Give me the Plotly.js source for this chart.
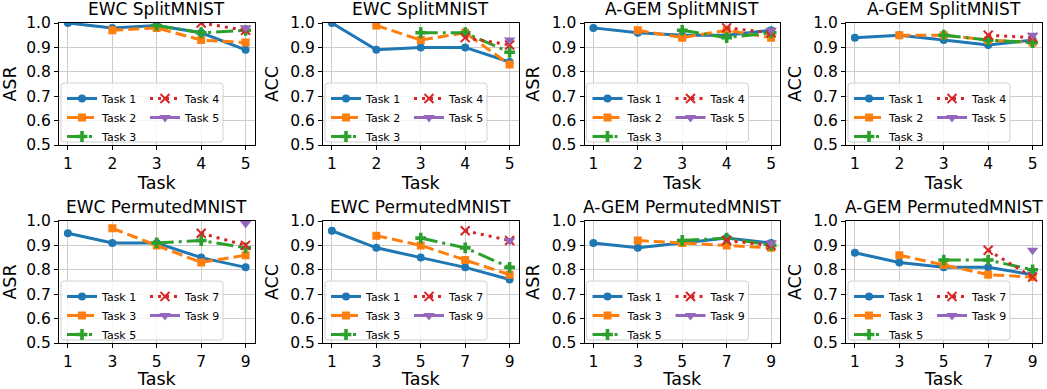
<!DOCTYPE html>
<html><head><meta charset="utf-8">
<script src="https://cdn.plot.ly/plotly-3.0.1.min.js"></script>
<style>html,body{margin:0;padding:0;background:#fff;}#chart{width:1047px;height:389px;}</style>
</head><body><div id="chart"></div>
<script>
// ---------------- data ----------------
const splitTasks = [1, 2, 3, 4, 5];
const permTasks = [1, 3, 5, 7, 9];
const splitNames = ['Task 1', 'Task 2', 'Task 3', 'Task 4', 'Task 5'];
const permNames = ['Task 1', 'Task 3', 'Task 5', 'Task 7', 'Task 9'];
const panelTitles = ['EWC SplitMNIST', 'EWC SplitMNIST', 'A-GEM SplitMNIST', 'A-GEM SplitMNIST',
  'EWC PermutedMNIST', 'EWC PermutedMNIST', 'A-GEM PermutedMNIST', 'A-GEM PermutedMNIST'];
const panelMetrics = ['ASR', 'ACC', 'ASR', 'ACC', 'ASR', 'ACC', 'ASR', 'ACC'];
const yTicks = [0.5, 0.6, 0.7, 0.8, 0.9, 1.0];
const xTitle = 'Task';

// each series starts at the task it was learned on
const ewcSplitASR_t1 = [1.00, 0.98, 0.99, 0.96, 0.89];
const ewcSplitASR_t2 = [0.97, 0.98, 0.93, 0.92];
const ewcSplitASR_t3 = [0.99, 0.96, 0.97];
const ewcSplitASR_t4 = [1.00, 0.97];
const ewcSplitASR_t5 = [0.98];

const ewcSplitACC_t1 = [1.00, 0.89, 0.90, 0.90, 0.84];
const ewcSplitACC_t2 = [0.99, 0.93, 0.96, 0.83];
const ewcSplitACC_t3 = [0.96, 0.96, 0.88];
const ewcSplitACC_t4 = [0.94, 0.91];
const ewcSplitACC_t5 = [0.93];

const agemSplitASR_t1 = [0.98, 0.96, 0.95, 0.95, 0.97];
const agemSplitASR_t2 = [0.97, 0.94, 0.97, 0.94];
const agemSplitASR_t3 = [0.97, 0.94, 0.96];
const agemSplitASR_t4 = [0.98, 0.96];
const agemSplitASR_t5 = [0.97];

const agemSplitACC_t1 = [0.94, 0.95, 0.93, 0.91, 0.93];
const agemSplitACC_t2 = [0.95, 0.95, 0.93, 0.92];
const agemSplitACC_t3 = [0.95, 0.93, 0.92];
const agemSplitACC_t4 = [0.95, 0.94];
const agemSplitACC_t5 = [0.95];

const ewcPermASR_t1 = [0.95, 0.91, 0.91, 0.85, 0.81];
const ewcPermASR_t3 = [0.97, 0.90, 0.83, 0.86];
const ewcPermASR_t5 = [0.91, 0.92, 0.89];
const ewcPermASR_t7 = [0.95, 0.90];
const ewcPermASR_t9 = [0.99];

const ewcPermACC_t1 = [0.96, 0.89, 0.85, 0.81, 0.76];
const ewcPermACC_t3 = [0.94, 0.90, 0.84, 0.78];
const ewcPermACC_t5 = [0.93, 0.89, 0.81];
const ewcPermACC_t7 = [0.96, 0.92];
const ewcPermACC_t9 = [0.92];

const agemPermASR_t1 = [0.91, 0.89, 0.91, 0.93, 0.91];
const agemPermASR_t3 = [0.92, 0.91, 0.90, 0.89];
const agemPermASR_t5 = [0.92, 0.93, 0.90];
const agemPermASR_t7 = [0.92, 0.90];
const agemPermASR_t9 = [0.91];

const agemPermACC_t1 = [0.87, 0.83, 0.81, 0.81, 0.78];
const agemPermACC_t3 = [0.86, 0.82, 0.78, 0.77];
const agemPermACC_t5 = [0.84, 0.84, 0.80];
const agemPermACC_t7 = [0.88, 0.77];
const agemPermACC_t9 = [0.88];

const panelSeries = [
  [ewcSplitASR_t1, ewcSplitASR_t2, ewcSplitASR_t3, ewcSplitASR_t4, ewcSplitASR_t5],
  [ewcSplitACC_t1, ewcSplitACC_t2, ewcSplitACC_t3, ewcSplitACC_t4, ewcSplitACC_t5],
  [agemSplitASR_t1, agemSplitASR_t2, agemSplitASR_t3, agemSplitASR_t4, agemSplitASR_t5],
  [agemSplitACC_t1, agemSplitACC_t2, agemSplitACC_t3, agemSplitACC_t4, agemSplitACC_t5],
  [ewcPermASR_t1, ewcPermASR_t3, ewcPermASR_t5, ewcPermASR_t7, ewcPermASR_t9],
  [ewcPermACC_t1, ewcPermACC_t3, ewcPermACC_t5, ewcPermACC_t7, ewcPermACC_t9],
  [agemPermASR_t1, agemPermASR_t3, agemPermASR_t5, agemPermASR_t7, agemPermASR_t9],
  [agemPermACC_t1, agemPermACC_t3, agemPermACC_t5, agemPermACC_t7, agemPermACC_t9]
];

// ---------------- styles / layout ----------------
const W = 1047, H = 389;
const FONT = 'DejaVu Sans, Liberation Sans, sans-serif';
const colLeft = [59, 323, 584.5, 846];
const colW = 195.5;
const rowTop = [23, 221];
const rowH = 122;
const styles = [
  {color: '#1f77b4', dash: 'solid', symbol: 'circle', size: 8},
  {color: '#ff7f0e', dash: '11px,5px', symbol: 'square', size: 8},
  {color: '#2ca02c', dash: '17px,5px,3px,5px', symbol: 'cross', size: 9},
  {color: '#d62728', dash: '3px,5px', symbol: 'x-thin', size: 9, open: true},
  {color: '#9467bd', dash: 'solid', symbol: 'triangle-down', size: 10}
];

const traces = [];
const layout = {
  width: W, height: H,
  margin: {l: 0, r: 0, t: 0, b: 0},
  paper_bgcolor: '#fff', plot_bgcolor: '#fff',
  font: {family: FONT, color: '#000'},
  showlegend: true,
  annotations: [], shapes: []
};

function legendId(k) { return k === 1 ? 'legend' : 'legend' + k; }

for (let p = 0; p < 8; p++) {
  const row = p < 4 ? 0 : 1;
  const col = p % 4;
  const left = colLeft[col];
  const top = rowTop[row];
  const tasks = row === 0 ? splitTasks : permTasks;
  const names = row === 0 ? splitNames : permNames;
  const ax = p === 0 ? '' : String(p + 1);
  const xr = row === 0 ? [0.8, 5.2] : [0.6, 9.4];

  const axisCommon = {
    showline: true, mirror: true, linecolor: '#000', linewidth: 1,
    ticks: 'outside', ticklen: 4, tickwidth: 1, tickcolor: '#000',
    showgrid: true, gridcolor: '#cccccc', gridwidth: 1, zeroline: false,
    tickfont: {size: 15.5, family: FONT, color: '#000'}, fixedrange: true
  };
  layout['xaxis' + ax] = Object.assign({}, axisCommon, {
    domain: [left / W, (left + colW) / W], anchor: 'y' + ax,
    range: xr, tickmode: 'array', tickvals: tasks, ticktext: tasks.map(String),
    title: {text: xTitle, font: {size: 17.5, family: FONT, color: '#000'}, standoff: 1}
  });
  layout['yaxis' + ax] = Object.assign({}, axisCommon, {
    domain: [1 - (top + rowH) / H, 1 - top / H], anchor: 'x' + ax,
    range: [0.5, 1.0], tickmode: 'array', tickvals: yTicks, tickformat: '.1f',
    title: {text: panelMetrics[p], font: {size: 17.5, family: FONT, color: '#000'}, standoff: 7}
  });

  layout.annotations.push({
    text: panelTitles[p], xref: 'paper', yref: 'paper',
    x: (left + colW / 2) / W, y: 1 - (top - 14.5) / H,
    xanchor: 'center', yanchor: 'middle', showarrow: false,
    font: {size: 17, family: FONT, color: '#000'}
  });

  // legend box (two legend columns, one frame)
  const boxTop = top + rowH - 62;
  const bx0 = left + 2, bx1 = left + 164, by0 = boxTop, by1 = boxTop + 59;
  const r = 3;
  const X = v => v / W, Y = v => 1 - v / H;
  const path = `M ${X(bx0 + r)} ${Y(by0)} L ${X(bx1 - r)} ${Y(by0)} Q ${X(bx1)} ${Y(by0)} ${X(bx1)} ${Y(by0 + r)} ` +
    `L ${X(bx1)} ${Y(by1 - r)} Q ${X(bx1)} ${Y(by1)} ${X(bx1 - r)} ${Y(by1)} ` +
    `L ${X(bx0 + r)} ${Y(by1)} Q ${X(bx0)} ${Y(by1)} ${X(bx0)} ${Y(by1 - r)} ` +
    `L ${X(bx0)} ${Y(by0 + r)} Q ${X(bx0)} ${Y(by0)} ${X(bx0 + r)} ${Y(by0)} Z`;
  layout.shapes.push({
    type: 'path', xref: 'paper', yref: 'paper', path: path, layer: 'above',
    fillcolor: 'rgba(255,255,255,0.8)', line: {color: '#d0d0d0', width: 1}
  });

  const l1 = legendId(2 * p + 1), l2 = legendId(2 * p + 2);
  const legCommon = {
    xref: 'paper', yref: 'paper', xanchor: 'left', yanchor: 'top',
    y: 1 - (boxTop + 1) / H, bgcolor: 'rgba(0,0,0,0)', borderwidth: 0,
    font: {size: 11, family: FONT, color: '#000'}, itemwidth: 30, tracegroupgap: 0,
    orientation: 'v'
  };
  layout[l1] = Object.assign({}, legCommon, {x: (left + 3) / W});
  layout[l2] = Object.assign({}, legCommon, {x: (left + 86) / W});

  panelSeries[p].forEach((vals, i) => {
    const s = styles[i];
    traces.push({
      type: 'scatter', mode: 'lines+markers',
      x: tasks.slice(i), y: vals, name: names[i],
      xaxis: 'x' + ax, yaxis: 'y' + ax,
      legend: i < 3 ? l1 : l2,
      line: {color: s.color, width: 3, dash: s.dash},
      marker: s.open
        ? {symbol: s.symbol, size: s.size, color: s.color, line: {color: s.color, width: 2}}
        : {symbol: s.symbol, size: s.size, color: s.color, line: {width: 0}},
      hoverinfo: 'x+y+name'
    });
  });
}

Plotly.newPlot('chart', traces, layout, {staticPlot: true, displayModeBar: false});
</script>
</body></html>
